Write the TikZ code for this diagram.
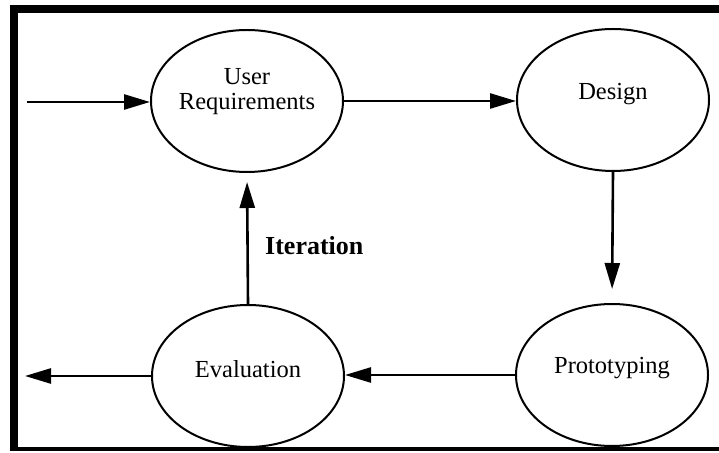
\documentclass[tikz,border=0pt]{standalone}
\usepackage{fontspec}
\setmainfont{Liberation Serif}
\usetikzlibrary{shapes.geometric,arrows.meta,calc}

\tikzset{
  stage/.style={draw, ellipse, line width=2pt, minimum width=192pt,
    minimum height=142pt, inner sep=0pt},
  stagetext/.style={align=center, font=\fontsize{24.5}{25}\selectfont, inner sep=0pt},
  flow/.style={line width=2.6pt, -{Triangle[length=26pt,width=15pt]}},
  frameband/.style={fill=black, draw=none}
}

\begin{document}
\begin{tikzpicture}[x=1pt, y=1pt]
  \useasboundingbox (0,0) rectangle (719,452);

  % heavy frame: left, top and bottom bands
  \fill[frameband] (10,1) rectangle (18,447);
  \fill[frameband] (10,439) rectangle (719,447);
  \fill[frameband] (10,1) rectangle (719,5);

  % the four stages
  \node[stage] (ur)     at (247,351) {};
  \node[stage] (design) at (613,352) {};
  \node[stage] (proto)  at (612,77)  {};
  \node[stage] (eval)   at (248,76)  {};

  \node[stagetext] (urt)     at ($(ur)+(0,9)$)     {User\\Requirements};
  \node[stagetext] (designt) at ($(design)+(0,6)$) {Design};
  \node[stagetext] (protot)  at ($(proto)+(0,7)$)  {Prototyping};
  \node[stagetext] (evalt)   at ($(eval)+(0,7)$)   {Evaluation};

  % loose ends of the entry and exit arrows
  \coordinate (entry) at (27,350);
  \coordinate (exit)  at (25,76);

  % connectors
  \draw[flow] (entry) -- (ur.west |- entry);
  \draw[flow] (ur.east) -- (ur.east -| design.west);
  \draw[flow, shorten >=14pt] (design.south) -- (proto.north);
  \draw[flow] (proto.west) -- (proto.west -| eval.east);
  \draw[flow] (eval.west) -- (exit);
  \draw[flow, shorten >=9pt] (eval.north) -- (ur.south);

  \node[anchor=west, inner sep=0pt, font=\fontsize{26}{28}\selectfont\bfseries]
    (iter) at (265,206) {Iteration};
\end{tikzpicture}
\end{document}
